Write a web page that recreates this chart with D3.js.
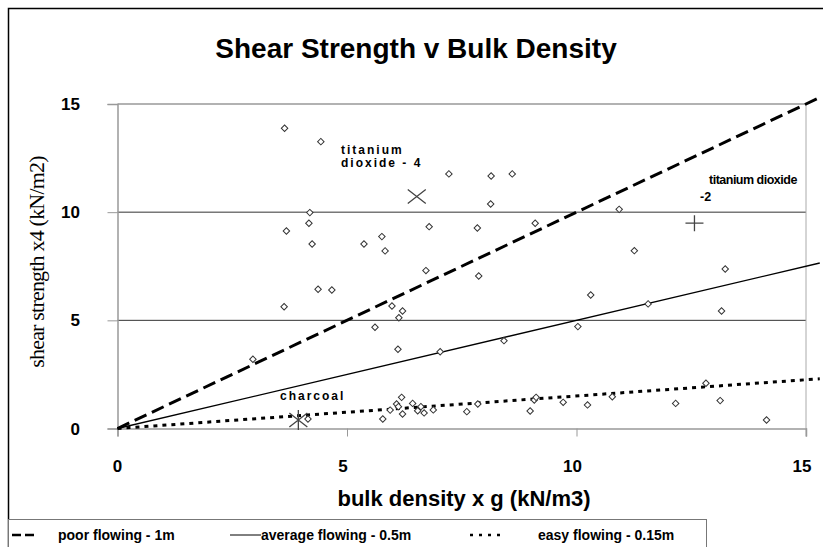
<!DOCTYPE html>
<html>
<head>
<meta charset="utf-8">
<script src="https://cdn.jsdelivr.net/npm/d3@7"></script>
<style>
  body { margin: 0; background: #fff; }
  text { font-family: "Liberation Sans", Arial, sans-serif; }
</style>
</head>
<body>
<svg id="chart" width="823" height="547"></svg>
<script>
var bulkDensity = [3.64, 4.43, 4.19, 4.17, 3.68, 4.24, 5.37, 7.22, 8.14, 8.60, 8.13, 6.79, 7.84, 9.10,
  5.76, 5.83, 6.72, 10.93, 11.26, 13.24, 4.37, 4.67, 3.63, 2.95, 4.15, 7.87, 10.31, 5.98, 6.21, 6.13,
  5.61, 10.03, 8.42, 6.11, 7.03, 11.56, 13.16, 6.19, 6.08, 6.43, 6.12, 5.94, 6.21, 5.78, 6.61, 6.54,
  6.68, 6.88, 7.61, 7.85, 8.99, 9.08, 9.12, 9.71, 10.24, 10.78, 12.82, 12.16, 13.13, 14.14];
var shearStrength = [13.88, 13.26, 9.98, 9.49, 9.13, 8.53, 8.53, 11.77, 11.67, 11.77, 10.38, 9.33, 9.27, 9.49,
  8.87, 8.21, 7.30, 10.13, 8.22, 7.37, 6.44, 6.40, 5.63, 3.20, 0.44, 7.05, 6.17, 5.66, 5.43, 5.12,
  4.68, 4.71, 4.06, 3.66, 3.55, 5.76, 5.43, 1.44, 1.13, 1.16, 1.01, 0.85, 0.67, 0.44, 1.01, 0.82,
  0.72, 0.86, 0.78, 1.13, 0.81, 1.32, 1.44, 1.21, 1.09, 1.47, 2.09, 1.16, 1.29, 0.39];

// labelled materials
var tio2Four = [6.52, 10.72];
var tio2Two = [12.57, 9.49];
var charcoal = [3.94, 0.39];

// flow guide lines (end points)
var lineX = [0, 15.3];
var poorY = [0, 15.3];
var averageY = [0, 7.65];
var easyY = [0, 2.3];

var xTicks = [0, 5, 10, 15];
var yTicks = [0, 5, 10, 15];

var svg = d3.select("#chart");

var x = d3.scaleLinear().domain([0, 15]).range([117.5, 806]);
var y = d3.scaleLinear().domain([0, 15]).range([428.5, 104]);

// outer frame
svg.append("path")
  .attr("d", "M8.5,547V8.5H823")
  .attr("fill", "none").attr("stroke", "#000").attr("stroke-width", 1.5);

// grid
var grid = svg.append("g");
yTicks.filter(function(d) { return d > 0; }).forEach(function(d) {
  grid.append("line")
    .attr("x1", x(0)).attr("x2", x(15))
    .attr("y1", y(d)).attr("y2", y(d))
    .attr("stroke", d === 15 ? "#999" : "#333").attr("stroke-width", d === 15 ? 1.5 : 1);
});
grid.append("line")
  .attr("x1", x(15)).attr("x2", x(15)).attr("y1", y(15)).attr("y2", y(0) + 8)
  .attr("stroke", "#aaa");

// axes
var yAxis = svg.append("g")
  .attr("transform", "translate(" + x(0) + ",0)")
  .call(d3.axisLeft(y).tickValues(yTicks).tickSize(10).tickFormat(""));
var xAxis = svg.append("g")
  .attr("transform", "translate(0," + y(0) + ")")
  .call(d3.axisBottom(x).tickValues(xTicks).tickSize(8).tickFormat(""));
[xAxis, yAxis].forEach(function(a) {
  a.select(".domain").attr("stroke", "#999").attr("stroke-width", 1.5);
  a.selectAll(".tick line").attr("stroke", "#999");
});

svg.append("g").selectAll("text")
  .data(yTicks).enter().append("text")
  .attr("x", 80).attr("y", function(d) { return y(d) + 6; })
  .attr("text-anchor", "end")
  .style("font-size", "17px").style("font-weight", "bold")
  .text(function(d) { return d; });

svg.append("g").selectAll("text")
  .data(xTicks).enter().append("text")
  .attr("x", function(d) { return x(d) - (d === 0 ? 0 : 4); }).attr("y", 472)
  .attr("text-anchor", "middle")
  .style("font-size", "17px").style("font-weight", "bold")
  .text(function(d) { return d; });

// titles
svg.append("text")
  .attr("x", 416).attr("y", 58).attr("text-anchor", "middle")
  .style("font-size", "28px").style("font-weight", "bold")
  .text("Shear Strength v Bulk Density");

svg.append("text")
  .attr("x", 464).attr("y", 506).attr("text-anchor", "middle")
  .style("font-size", "22px").style("font-weight", "bold")
  .text("bulk density x g (kN/m3)");

svg.append("text")
  .attr("transform", "translate(44,262) rotate(-90)")
  .attr("text-anchor", "middle")
  .style("font-family", "'Liberation Serif', 'Times New Roman', serif")
  .style("font-size", "22px").style("letter-spacing", "-0.8px")
  .text("shear strength x4 (kN/m2)");

// flow lines
var line = d3.line()
  .x(function(d) { return x(d[0]); })
  .y(function(d) { return y(d[1]); });
var flows = [
  { ys: poorY, dash: "13,6", width: 3 },
  { ys: averageY, dash: null, width: 1.3 },
  { ys: easyY, dash: "4,5", width: 3 }
];
flows.forEach(function(f) {
  svg.append("path")
    .attr("d", line(lineX.map(function(v, i) { return [v, f.ys[i]]; })))
    .attr("fill", "none").attr("stroke", "#000")
    .attr("stroke-width", f.width)
    .attr("stroke-dasharray", f.dash);
});

// samples
var diamond = d3.symbol().type(d3.symbolSquare).size(21);
svg.append("g").selectAll("path")
  .data(bulkDensity).enter().append("path")
  .attr("d", diamond)
  .attr("transform", function(d, i) {
    return "translate(" + x(d) + "," + y(shearStrength[i]) + ") rotate(45)";
  })
  .attr("fill", "#fff").attr("stroke", "#333").attr("stroke-width", 1);

// special markers
var m = svg.append("g").attr("fill", "none").attr("stroke", "#444").attr("stroke-width", 1.3);
var tx = x(tio2Four[0]), ty = y(tio2Four[1]);
m.append("path").attr("d", "M" + (tx - 9) + "," + (ty - 7) + "L" + (tx + 9) + "," + (ty + 7) +
  "M" + (tx - 9) + "," + (ty + 7) + "L" + (tx + 9) + "," + (ty - 7));
var px = x(tio2Two[0]), py = y(tio2Two[1]);
m.append("path").attr("d", "M" + (px - 9) + "," + py + "H" + (px + 9) + "M" + px + "," + (py - 8) + "V" + (py + 8));
var cx = x(charcoal[0]), cy = y(charcoal[1]);
m.append("path").attr("d", "M" + (cx - 9) + "," + (cy - 7) + "L" + (cx + 9) + "," + (cy + 7) +
  "M" + (cx - 9) + "," + (cy + 7) + "L" + (cx + 9) + "," + (cy - 7) +
  "M" + cx + "," + (cy - 10) + "V" + (cy + 10));

// annotations
function note(tx, ty, lines, spacing, size) {
  var t = svg.append("text").attr("x", tx).attr("y", ty)
    .style("font-size", size + "px").style("font-weight", "bold")
    .style("letter-spacing", spacing + "px");
  lines.forEach(function(s, i) {
    t.append("tspan").attr("x", tx).attr("dy", i === 0 ? 0 : size + 1).text(s);
  });
}
note(341, 154, ["titanium", "dioxide - 4"], 2, 12);
svg.append("text").attr("x", 709).attr("y", 184)
  .style("font-size", "12.5px").style("font-weight", "bold").style("letter-spacing", "-0.5px")
  .text("titanium dioxide");
svg.append("text").attr("x", 700).attr("y", 201)
  .style("font-size", "12.5px").style("font-weight", "bold")
  .text("-2");
note(280, 400, ["charcoal"], 2, 12);

// legend
var lg = svg.append("g");
lg.append("rect").attr("x", 8.5).attr("y", 519.5).attr("width", 698).attr("height", 40)
  .attr("fill", "#fff").attr("stroke", "#777");
var legendItems = [
  { label: "poor flowing - 1m", x1: 12, x2: 34, tx: 58, dash: "9,4", width: 2.5 },
  { label: "average flowing - 0.5m", x1: 230, x2: 261, tx: 261, dash: null, width: 1 },
  { label: "easy flowing - 0.15m", x1: 470, x2: 506, tx: 538, dash: "3,6", width: 2.5 }
];
legendItems.forEach(function(d) {
  lg.append("line").attr("x1", d.x1).attr("x2", d.x2).attr("y1", 535).attr("y2", 535)
    .attr("stroke", "#000").attr("stroke-width", d.width).attr("stroke-dasharray", d.dash);
  lg.append("text").attr("x", d.tx).attr("y", 540)
    .style("font-size", "14px").style("font-weight", "bold").text(d.label);
});
</script>
</body>
</html>
